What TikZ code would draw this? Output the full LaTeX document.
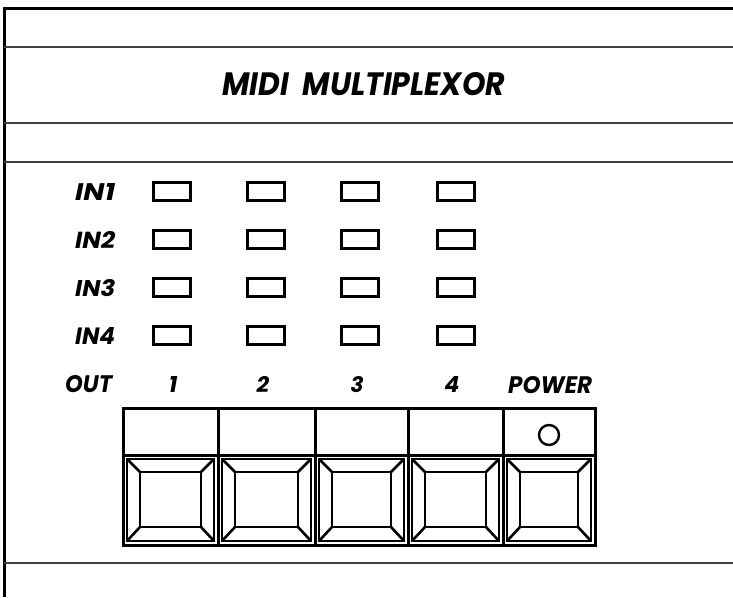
\documentclass[tikz,border=0pt]{standalone}
\usepackage{fontspec}
\usepackage{graphicx}
\newfontfamily\gfont{Poppins}
\newcommand{\lbl}[2]{\resizebox{#1pt}{17pt}{\gfont\bfseries\itshape #2}}
\tikzset{
  rule/.style={line width=1.1pt, black!75},
  frame/.style={line width=3pt, line join=miter},
  led/.style={draw, line width=3pt, minimum width=37pt, minimum height=18pt, inner sep=0pt},
  panel/.style={line width=3pt, line join=miter},
  btn/.style={line width=2.6pt, line join=miter},
  txt/.style={inner sep=0pt, anchor=base west},
  ctxt/.style={inner sep=0pt, anchor=base}
}
\begin{document}
\begin{tikzpicture}[x=1pt,y=-1pt]
\useasboundingbox (0,0) rectangle (733,597);
% outer frame and rules
\draw[frame] (4,597) -- (4,8) -- (733,8);
\foreach \yy in {47,123,162,563} \draw[rule] (4,\yy) -- (733,\yy);
% title
\node[txt] (title) at (222,95) {\resizebox{283pt}{23pt}{\gfont\bfseries\itshape MIDI\ \ MULTIPLEXOR}};
% row labels
\node[txt] (in1) at (75,200) {\lbl{40}{IN1}};
\node[txt] (in2) at (75,248) {\lbl{40}{IN2}};
\node[txt] (in3) at (75,296) {\lbl{40}{IN3}};
\node[txt] (in4) at (75,344) {\lbl{40}{IN4}};
\node[txt] (out) at (65,392) {\lbl{47}{OUT}};
% LEDs
\foreach \r/\yy in {1/191.5,2/239.5,3/287.5,4/335.5}
  \foreach \c/\xx in {1/171.5,2/266,3/360,4/455.5}
    \node[led] (led\r\c) at (\xx,\yy) {};
% column numbers
\node[ctxt] (n1) at (173,392) {\resizebox{!}{16pt}{\gfont\bfseries\itshape 1}};
\node[ctxt] (n2) at (263,392) {\resizebox{!}{16pt}{\gfont\bfseries\itshape 2}};
\node[ctxt] (n3) at (357,392) {\resizebox{!}{16pt}{\gfont\bfseries\itshape 3}};
\node[ctxt] (n4) at (452,392) {\resizebox{!}{16pt}{\gfont\bfseries\itshape 4}};
\node[txt] (power) at (508,393) {\lbl{84}{POWER}};
% panel
\draw[panel] (123,408) rectangle (595,545);
\draw[panel] (123,455) -- (595,455);
\foreach \xx in {218,315,408,503} \draw[panel] (\xx,408) -- (\xx,545);
% buttons
\foreach \a/\b in {123/218,218/315,315/408,408/503,503/595}{
  \draw[btn] (\a+4,459) rectangle (\b-4,541);
  \draw[btn] (\a+17,472) rectangle (\b-17,527);
  \draw[btn] (\a+4,459) -- (\a+17,472);
  \draw[btn] (\b-4,459) -- (\b-17,472);
  \draw[btn] (\a+4,541) -- (\a+17,527);
  \draw[btn] (\b-4,541) -- (\b-17,527);
}
% power indicator
\node[draw, circle, line width=2.4pt, minimum size=20pt, inner sep=0pt] (pled) at (549,435) {};
\end{tikzpicture}
\end{document}
